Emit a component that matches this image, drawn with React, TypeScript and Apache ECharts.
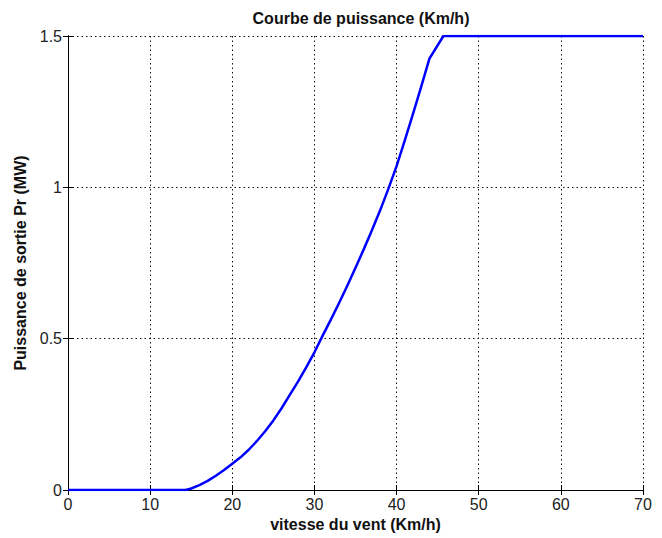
import React, { useEffect, useRef } from "react";
import * as echarts from "echarts";

const windSpeed = [0, 14.3, 15, 16, 17, 18, 19, 20, 21, 22, 23, 24, 25, 26, 27, 28, 29, 30, 31, 32, 33, 34, 35, 36, 37, 38, 39, 40, 41, 42, 43, 44, 45.7, 70];
const power = [0, 0, 0.005, 0.016, 0.03, 0.047, 0.066, 0.087, 0.108, 0.133, 0.162, 0.194, 0.23, 0.27, 0.314, 0.358, 0.405, 0.455, 0.51, 0.563, 0.618, 0.675, 0.734, 0.795, 0.858, 0.924, 0.995, 1.07, 1.155, 1.243, 1.333, 1.425, 1.5, 1.5];

const titleText = "Courbe de puissance (Km/h)";
const xName = "vitesse du vent (Km/h)";
const yName = "Puissance de sortie Pr (MW)";

const FONT = "'Liberation Sans', Arial, Helvetica, sans-serif";

export default function App() {
  const ref = useRef<HTMLDivElement>(null);
  useEffect(() => {
    if (!ref.current) return;
    const chart = echarts.init(ref.current, null, { renderer: "svg" });
    const axisLine = { show: true, lineStyle: { color: "#000", width: 1 } };
    const tick = { show: true, inside: true, length: 5, lineStyle: { color: "#000" } };
    const grid = { show: true, lineStyle: { color: "#111", type: [1.5, 3], width: 1 } };
    chart.setOption({
      animation: false,
      backgroundColor: "#fff",
      title: {
        text: titleText,
        left: 356,
        textAlign: "center",
        top: 5,
        textStyle: { fontFamily: FONT, fontSize: 16, fontWeight: "bold", color: "#111" },
      },
      grid: { left: 68, right: 19, top: 36, bottom: 48, containLabel: false },
      xAxis: [
        {
          type: "value",
          min: 0,
          max: 70,
          interval: 10,
          position: "bottom",
          name: xName,
          nameLocation: "middle",
          nameGap: 26,
          nameTextStyle: { fontFamily: FONT, fontSize: 16, fontWeight: "bold", color: "#111" },
          axisLine,
          axisTick: tick,
          splitLine: grid,
          axisLabel: { fontFamily: FONT, fontSize: 16, color: "#222", margin: 6 },
        },
        {
          type: "value",
          min: 0,
          max: 70,
          interval: 10,
          position: "top",
          axisLine,
          axisTick: tick,
          splitLine: { show: false },
          axisLabel: { show: false },
        },
      ],
      yAxis: [
        {
          type: "value",
          min: 0,
          max: 1.5,
          interval: 0.5,
          position: "left",
          name: yName,
          nameLocation: "middle",
          nameGap: 40,
          nameTextStyle: { fontFamily: FONT, fontSize: 16, fontWeight: "bold", color: "#111" },
          axisLine,
          axisTick: tick,
          splitLine: grid,
          axisLabel: { fontFamily: FONT, fontSize: 16, color: "#222", margin: 6 },
        },
        {
          type: "value",
          min: 0,
          max: 1.5,
          interval: 0.5,
          position: "right",
          axisLine,
          axisTick: tick,
          splitLine: { show: false },
          axisLabel: { show: false },
        },
      ],
      series: [
        {
          type: "line",
          data: windSpeed.map((v, i) => [v, power[i]]),
          smooth: false,
          showSymbol: false,
          symbol: "none",
          lineStyle: { color: "#0000ff", width: 2.5, join: "round" },
          z: 5,
        },
      ],
    });
    return () => chart.dispose();
  }, []);
  return <div ref={ref} style={{ width: 662, height: 538, position: "absolute", left: 0, top: 0 }} />;
}
